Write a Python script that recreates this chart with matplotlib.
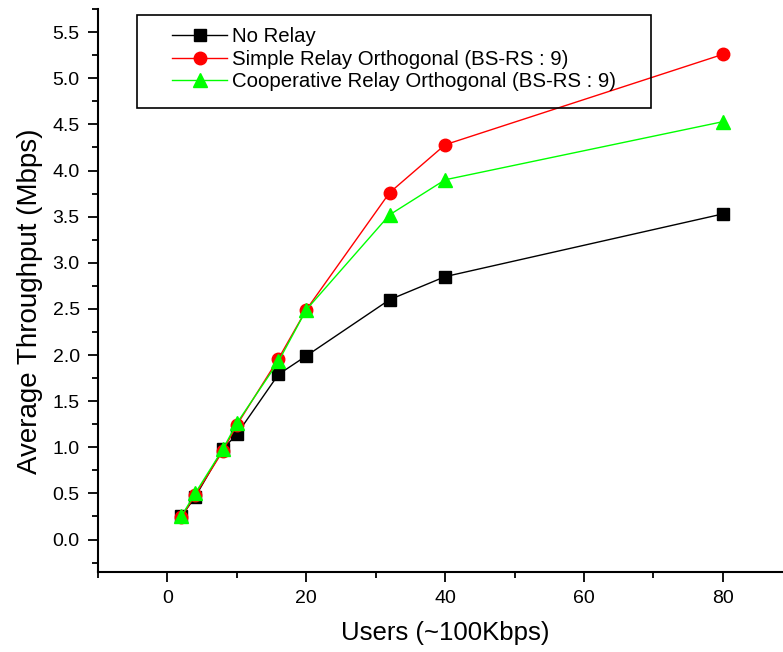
import matplotlib
matplotlib.use("Agg")
import matplotlib.pyplot as plt
from matplotlib.ticker import MultipleLocator, FormatStrFormatter
from matplotlib.patches import Rectangle

plt.rcParams['font.family'] = ['Liberation Sans', 'DejaVu Sans']

# Data
users = [2, 4, 8, 10, 16, 20, 32, 40, 80]
no_relay = [0.25, 0.46, 0.98, 1.14, 1.79, 1.99, 2.60, 2.85, 3.53]
simple_relay = [0.24, 0.48, 0.96, 1.24, 1.96, 2.49, 3.76, 4.28, 5.26]
coop_relay = [0.25, 0.50, 0.98, 1.26, 1.93, 2.49, 3.52, 3.90, 4.53]

labels = ['No Relay',
          'Simple Relay Orthogonal (BS-RS : 9)',
          'Cooperative Relay Orthogonal (BS-RS : 9)']

fig = plt.figure(figsize=(7.83, 6.52), dpi=100)
ax = fig.add_axes([0.125, 0.123, 0.887, 0.863])

ax.plot(users, no_relay, color='black', lw=1, marker='s', ms=8, label=labels[0])
ax.plot(users, simple_relay, color='red', lw=1, marker='o', ms=9, label=labels[1])
ax.plot(users, coop_relay, color='#00ff00', lw=1, marker='^', ms=10, label=labels[2])

ax.set_xlim(-10, 90)
ax.set_ylim(-0.35, 5.75)
ax.xaxis.set_major_locator(MultipleLocator(20))
ax.xaxis.set_minor_locator(MultipleLocator(10))
ax.yaxis.set_major_locator(MultipleLocator(0.5))
ax.yaxis.set_minor_locator(MultipleLocator(0.25))
ax.yaxis.set_major_formatter(FormatStrFormatter('%.1f'))

for side in ['top', 'right']:
    ax.spines[side].set_visible(False)
for side in ['left', 'bottom']:
    ax.spines[side].set_linewidth(1.5)

ax.tick_params(which='major', direction='out', length=7, width=1.3, labelsize=14, pad=6)
ax.tick_params(which='minor', direction='out', length=4, width=1.3)

ax.set_xlabel('Users (~100Kbps)', fontsize=18.5, labelpad=10)
ax.set_ylabel('Average Throughput (Mbps)', fontsize=20)
ax.yaxis.set_label_coords(-0.079, 0.48)

# legend entries without frame, frame drawn as a box in figure space
leg = ax.legend(loc='upper left', bbox_to_anchor=(0.22, 0.958),
                bbox_transform=fig.transFigure, fontsize=14.7, frameon=False,
                borderpad=0, labelspacing=0.17, handlelength=2.7,
                handletextpad=0.25, borderaxespad=0)
fig.patches.append(Rectangle((0.175, 0.834), 0.656, 0.143, transform=fig.transFigure,
                             fill=False, edgecolor='black', lw=1.2, zorder=5))

fig.savefig('out.png', dpi=100)
